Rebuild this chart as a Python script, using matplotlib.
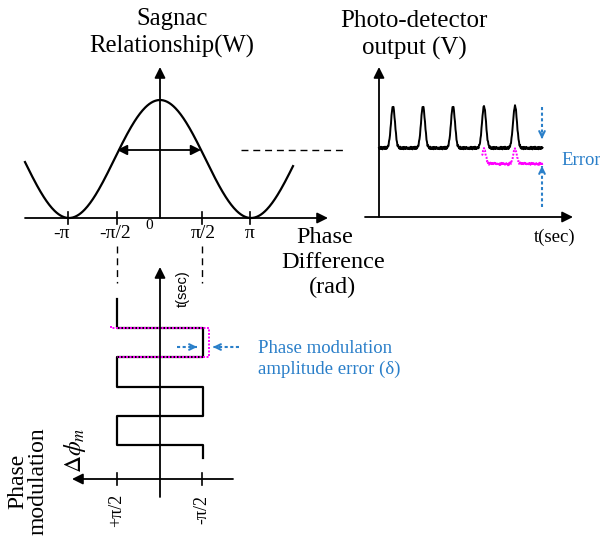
import matplotlib
matplotlib.use("Agg")
import matplotlib.pyplot as plt
import numpy as np

plt.rcParams['font.family'] = ['Liberation Serif', 'DejaVu Serif']
plt.rcParams['mathtext.fontset'] = 'stix'

BLUE = '#2a7fc9'
MAG = '#ff00ff'

# --- Sagnac relationship (top left) ---
sag_tick_x = [68, 117, 202, 250]
sag_tick_labels = ['-π', '-π/2', 'π/2', 'π']
sag_label_x = [61, 115, 203, 250]
sag_center, sag_half_period, sag_amp = 160, 91, 118
sag_base = 218

# --- photo-detector output (top right) ---
pd_pulse_x = [393, 423, 453, 484, 515]
pd_err_pulse_x = [484, 515]
pd_level, pd_peak = 148, 42
pd_err_level, pd_err_peak = 164, 15
noise = [0.0, 1.3, -0.9, 0.6, -1.4, 1.0, -0.4, 1.5, -1.2, 0.3,
         -0.7, 1.1, -1.5, 0.8, -0.2, 1.2, -1.0, 0.5, -0.6, 1.4,
         -1.3, 0.2, 0.9, -0.8, 1.0, -1.1, 0.4, -0.3, 1.2, -0.5]

# --- phase modulation (bottom) in units of pi/2 ---
mod_levels = [1, -1, 1, -1, 1, -1]
mod_edges = [0, 1, 2, 3, 4, 5, 5.45]
err_levels = [1.15, -1.15]
err_edges = [0.93, 1, 2]

fig = plt.figure(figsize=(6, 5.38), dpi=100)
ax = fig.add_axes([0, 0, 1, 1])
ax.set_xlim(0, 600)
ax.set_ylim(538, 0)
ax.axis('off')


def arrow(x0, y0, x1, y1, style='-|>', color='k', lw=1.3, ms=16):
    ax.annotate('', xy=(x1, y1), xytext=(x0, y0),
                arrowprops=dict(arrowstyle=style, color=color, lw=lw,
                                mutation_scale=ms, shrinkA=0, shrinkB=0))


def blue_arrow(x0, y0, x1, y1):
    ax.plot([x0, x1], [y0, y1], color=BLUE, lw=1.5, ls=(0, (1.5, 1.2)))
    dx, dy = x1 - x0, y1 - y0
    n = np.hypot(dx, dy)
    arrow(x1 - 5 * dx / n, y1 - 5 * dy / n, x1, y1, style='->', color=BLUE, lw=1.5, ms=10)


# ---------- top left ----------
arrow(25, sag_base, 328, sag_base)
arrow(160, sag_base, 160, 67)
xs = np.linspace(25, 293, 400)
ys = sag_base - sag_amp * (1 + np.cos((xs - sag_center) / sag_half_period * np.pi)) / 2
ax.plot(xs, ys, color='k', lw=1.6)
for tx in sag_tick_x:
    ax.plot([tx, tx], [212, 224], color='k', lw=1.2)
for lx, lab in zip(sag_label_x, sag_tick_labels):
    ax.text(lx, 238, lab, ha='center', va='baseline', fontsize=14)
ax.text(149, 229, '0', ha='center', va='baseline', fontsize=11)
arrow(160, 150, 117, 150, ms=15)
arrow(160, 150, 201, 150, ms=15)
ax.plot([241, 346], [150, 150], color='k', lw=1.0, ls=(0, (5, 3.5)))
for tx in [117, 202]:
    ax.plot([tx, tx], [246, 283], color='k', lw=1.0, ls=(0, (5, 3.5)))
ax.text(172, 25, 'Sagnac', ha='center', va='baseline', fontsize=17.8)
ax.text(172, 53, 'Relationship(W)', ha='center', va='baseline', fontsize=17.8)
ax.text(325, 243, 'Phase', ha='center', va='baseline', fontsize=17.5)
ax.text(333, 268, 'Difference', ha='center', va='baseline', fontsize=17.5)
ax.text(333, 293, '(rad)', ha='center', va='baseline', fontsize=17.5)

# ---------- top right ----------
arrow(365, 217, 573, 217)
arrow(379, 217, 379, 67)
px = np.arange(379, 543, 0.5)
py = pd_level + np.resize(noise, px.size) * 0.9
for c in pd_pulse_x:
    py = py - pd_peak * np.exp(-(px - c) ** 2 / (2 * 2.0 ** 2))
ax.plot(px, py, color='k', lw=1.4)
ex = np.arange(482, 543, 0.5)
ey = pd_err_level + np.resize(noise[::-1], ex.size) * 0.9
for c in pd_err_pulse_x:
    ey = ey - pd_err_peak * np.exp(-(ex - c) ** 2 / (2 * 1.8 ** 2))
ax.plot(ex, ey, color=MAG, lw=1.4, ls=(0, (1, 0.8)))
blue_arrow(542, 107, 542, 139)
blue_arrow(542, 207, 542, 166)
ax.text(561, 165, 'Error', color=BLUE, ha='left', va='baseline', fontsize=13.5)
ax.text(414, 27, 'Photo-detector', ha='center', va='baseline', fontsize=18)
ax.text(414, 55, 'output (V)', ha='center', va='baseline', fontsize=18)
ax.text(555, 242, 't(sec)', ha='center', va='baseline', fontsize=13.5)

# ---------- bottom ----------
arrow(160, 497, 160, 267)
arrow(233, 479, 72, 479)
for tx in [117, 202]:
    ax.plot([tx, tx], [473, 485], color='k', lw=1.2)


def mx(level):
    return 160 - 43 * level


def my(t):
    return 299 + 29.2 * t


sx, sy = [], []
for i, lev in enumerate(mod_levels):
    sx += [mx(lev), mx(lev)]
    sy += [my(mod_edges[i]), my(mod_edges[i + 1])]
ax.plot(sx, sy, color='k', lw=1.6)

ex2, ey2 = [], []
for i, lev in enumerate(err_levels):
    ex2 += [mx(lev), mx(lev)]
    ey2 += [my(err_edges[i]), my(err_edges[i + 1])]
ex2.append(mx(1))
ey2.append(my(err_edges[-1]))
ax.plot(ex2, ey2, color=MAG, lw=1.4, ls=(0, (1, 0.8)))

blue_arrow(177, 347, 197, 347)
blue_arrow(239, 347, 213, 347)
ax.text(258, 353, 'Phase modulation', color=BLUE, ha='left', va='baseline', fontsize=13.5)
ax.text(258, 374, 'amplitude error (δ)', color=BLUE, ha='left', va='baseline', fontsize=13.5)

ax.text(183, 289, 't(sec)', rotation=90, ha='center', va='center', fontsize=10.5,
        family=['Liberation Sans', 'DejaVu Sans'])
ax.text(117, 510, '+π/2', rotation=90, ha='center', va='center', fontsize=13)
ax.text(202, 510, '-π/2', rotation=90, ha='center', va='center', fontsize=13)
ax.text(75, 450, r'$\Delta\phi_m$', rotation=90, ha='center', va='center', fontsize=17)
ax.text(28, 481, 'Phase\nmodulation', rotation=90, ha='center', va='center',
        multialignment='center', fontsize=17, linespacing=1.0)

fig.savefig('out.png', dpi=100)
